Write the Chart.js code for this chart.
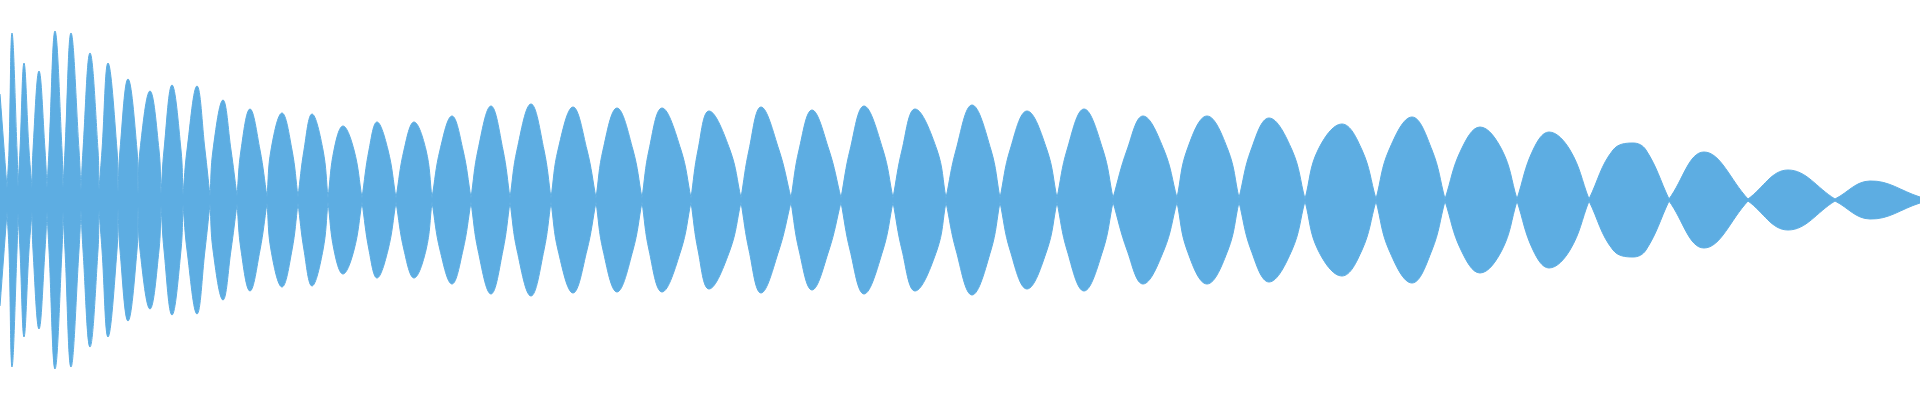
<!DOCTYPE html>
<html>
<head>
<meta charset="utf-8">
<script src="https://cdn.jsdelivr.net/npm/chart.js@4/dist/chart.umd.min.js"></script>
<style>
  html, body { margin: 0; padding: 0; background: #ffffff; }
  #wrap { width: 1920px; height: 400px; }
</style>
</head>
<body>
<div id="wrap"><canvas id="c" width="1920" height="400"></canvas></div>
<script>
// Envelope of the waveform (upper half; lower half is the mirror image)
const leadX = 0;
const leadAmp = 106;

// Zero-crossing (waist) positions and their residual amplitude
const nodeX = [7, 18, 32, 47, 63, 81, 99, 118, 138, 161,
  183, 210, 237, 267, 298, 328, 362, 396, 432, 471,
  510, 551, 596, 642, 691, 741, 791, 841, 893, 946,
  1000, 1057, 1113, 1177, 1239, 1305, 1376, 1445, 1517, 1589,
  1669, 1748, 1835, 1920];
const nodeAmp = [12, 13, 12, 12, 12, 10, 10, 8, 6, 6,
  5, 4, 4, 3, 3, 2, 2, 2, 2, 2,
  2, 2, 2, 2, 2, 2, 2, 2, 2, 2,
  2, 2, 2, 2, 2, 1, 1, 1, 1, 1,
  1, 1, 1, 3];

// Lobe peaks
const peakX = [12, 24, 39, 55, 71, 90, 108, 128, 150, 172,
  197, 223, 250, 282, 312, 343, 377, 414, 452, 491,
  531, 573, 617, 662, 709, 761, 812, 864, 915, 972,
  1027, 1084, 1143, 1207, 1269, 1342, 1412, 1480, 1549, 1633,
  1704, 1788, 1870];
const peakAmp = [167, 137, 129, 169, 167, 147, 137, 121, 109, 115,
  114, 100, 91, 87, 86, 74, 78, 78, 84, 94,
  96, 93, 92, 92, 89, 93, 90, 94, 91, 95,
  89, 91, 84, 84, 82, 76, 83, 73, 68, 57,
  48, 30, 19];

// Where each lobe's flanks cross the level shoulderAmp (null = not read)
const shoulderAmp = 50;
const shoulderLX = [9, 20, 33, 49, 65, 83, 102, 120, 140, 164,
  187, 213, 241, 271, 304, 334, 369, 404, 440, 478,
  517, 558, 603, 649, 698, 749, 799, 850, 902, 956,
  1010, 1067, 1127, 1187, 1251, 1318, 1389, 1461, 1533, 1613,
  null, null, null];
const shoulderRX = [17, 29, 45, 62, 79, 98, 117, 137, 159, 181,
  205, 231, 260, 292, 323, 354, 388, 426, 463, 503,
  544, 587, 633, 681, 730, 779, 829, 883, 937, 991,
  1047, 1103, 1164, 1228, 1292, 1362, 1432, 1502, 1570, 1646,
  null, null, null];

const COLOR = '#5DADE2';

// Build the upper envelope; each waist is given twice so the curve meets it in a sharp point
const upper = [{ x: leadX, y: leadAmp }];
for (let i = 0; i < nodeX.length; i++) {
  upper.push({ x: nodeX[i], y: nodeAmp[i] });
  if (i < peakX.length) {
    upper.push({ x: nodeX[i], y: nodeAmp[i] });
    if (shoulderLX[i] !== null) upper.push({ x: shoulderLX[i], y: shoulderAmp });
    upper.push({ x: peakX[i], y: peakAmp[i] });
    if (shoulderRX[i] !== null) upper.push({ x: shoulderRX[i], y: shoulderAmp });
  }
}
const lower = upper.map(p => ({ x: p.x, y: -p.y }));

new Chart(document.getElementById('c'), {
  type: 'line',
  data: {
    datasets: [
      { data: upper, fill: 'origin', backgroundColor: COLOR, borderColor: COLOR, borderWidth: 1, tension: 0.4, pointRadius: 0 },
      { data: lower, fill: 'origin', backgroundColor: COLOR, borderColor: COLOR, borderWidth: 1, tension: 0.4, pointRadius: 0 }
    ]
  },
  options: {
    responsive: false,
    animation: false,
    devicePixelRatio: 1,
    layout: { padding: 0 },
    plugins: { legend: { display: false }, tooltip: { enabled: false } },
    scales: {
      x: { type: 'linear', min: 0, max: 1920, display: false },
      y: { min: -200, max: 200, display: false }
    }
  }
});
</script>
</body>
</html>
